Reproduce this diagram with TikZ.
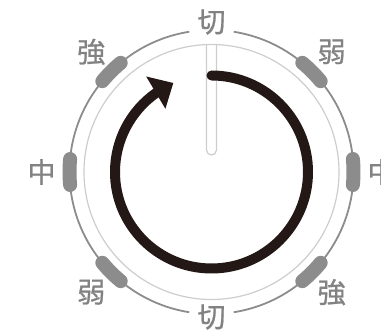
\documentclass[tikz,border=0pt]{standalone}
\usepackage{fontspec}
\usetikzlibrary{calc}
\newfontfamily\cjk[FakeBold=0.8]{Noto Sans CJK JP}
\definecolor{ringgray}{HTML}{8C8C8C}
\definecolor{lightgray2}{HTML}{CDCDCD}
\definecolor{labelgray}{HTML}{828282}
\definecolor{knobblack}{HTML}{231815}
\begin{document}
\begin{tikzpicture}[x=1pt,y=1pt,
  lbl/.style={font=\cjk\fontsize{28}{28}\selectfont, text=labelgray, inner sep=0pt},
  ring/.style={draw=ringgray, line width=1.8pt},
  inner/.style={draw=lightgray2, line width=1.2pt},
  tick/.style={draw=ringgray, line width=14pt, line cap=round},
  knob/.style={draw=knobblack, line width=10pt, line cap=round}]
\useasboundingbox (0,0) rectangle (381,336);
\coordinate (C) at (211.5,164);
% outer ring with gaps for the top and bottom labels
\draw[ring] ($(C)+(99:142)$) arc[start angle=99, end angle=261, radius=142];
\draw[ring] ($(C)+(-81:142)$) arc[start angle=-81, end angle=81, radius=142];
% inner light circle
\draw[inner] (C) circle[radius=127.5];
% slot
\draw[inner] (206.5,291.3) -- (206.5,186) arc[start angle=180, end angle=360, radius=5] -- (216.5,291.3);
% ticks
\foreach \a in {0,45,135,180,225,315}{
  \draw[tick] ($(C)+(\a+5.25:142)$) arc[start angle=\a+5.25, end angle=\a-5.25, radius=142];
}
% knob arrow
\draw[knob] ($(C)+(90:96.5)$) arc[start angle=90, end angle=-235, radius=96.5];
\fill[knobblack] (146.2,259.5) -- (173.3,253) -- (165.4,227.2) -- cycle;
% labels
\node[lbl] (t1) at (211.5,314) {切};
\node[lbl] (t2) at (211.5,19) {切};
\node[lbl] (l1) at ($(C)+(180:170)$) {中};
\node[lbl] (l2) at ($(C)+(0:170)$) {中};
\node[lbl] (l3) at ($(C)+(135:170)$) {強};
\node[lbl] (l4) at ($(C)+(45:170)$) {弱};
\node[lbl] (l5) at ($(C)+(225:170)$) {弱};
\node[lbl] (l6) at ($(C)+(-45:170)$) {強};
\end{tikzpicture}
\end{document}
